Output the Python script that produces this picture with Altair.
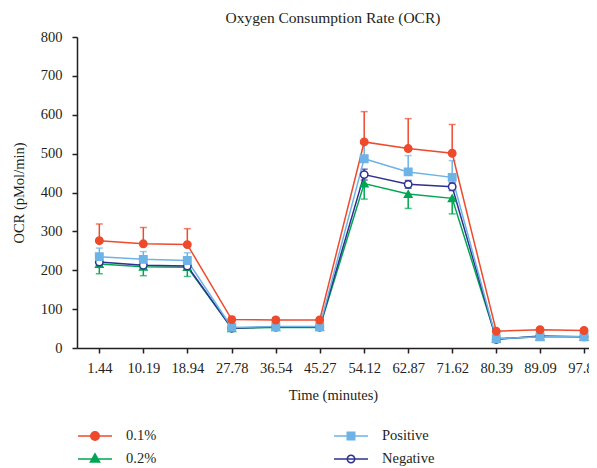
import altair as alt
import pandas as pd

times = [1.44, 10.19, 18.94, 27.78, 36.54, 45.27, 54.12, 62.87, 71.62, 80.39, 89.09, 97.84]
series_names = ["0.1%", "0.2%", "Positive", "Negative"]
stroke_colors = ["#EE4A2C", "#00A651", "#6DB3E6", "#2E3192"]
fill_colors = ["#EE4A2C", "#00A651", "#6DB3E6", "#FFFFFF"]
marker_shapes = ["circle", "triangle-up", "square", "circle"]

mean_01 = [276, 268, 266, 73, 72, 72, 530, 513, 501, 43, 47, 45]
up_01 = [43, 42, 41, 8, 6, 6, 78, 77, 74, 4, 4, 3]
down_01 = [0, 0, 0, 0, 0, 0, 0, 0, 0, 0, 0, 0]

mean_pos = [235, 228, 225, 53, 55, 55, 487, 453, 439, 24, 29, 29]
up_pos = [22, 20, 20, 4, 3, 3, 45, 42, 43, 3, 3, 3]
down_pos = [0, 0, 0, 0, 0, 0, 0, 0, 0, 0, 0, 0]

mean_02 = [216, 209, 208, 51, 53, 53, 423, 396, 385, 24, 29, 29]
up_02 = [0, 0, 0, 0, 0, 0, 0, 0, 0, 0, 0, 0]
down_02 = [25, 23, 24, 4, 3, 3, 40, 37, 40, 3, 3, 3]

mean_neg = [221, 213, 211, 51, 54, 54, 446, 421, 415, 22, 31, 29]
up_neg = [8, 7, 7, 3, 3, 3, 14, 10, 10, 3, 3, 3]
down_neg = [8, 7, 7, 3, 3, 3, 14, 10, 10, 3, 3, 3]

series_data = {
    "0.1%": (mean_01, up_01, down_01),
    "Positive": (mean_pos, up_pos, down_pos),
    "0.2%": (mean_02, up_02, down_02),
    "Negative": (mean_neg, up_neg, down_neg),
}

rows = []
caps = []
for s in ["0.2%", "Negative", "Positive", "0.1%"]:
    m, u, d = series_data[s]
    for t, mv, uv, dv in zip(times, m, u, d):
        rows.append({"series": s, "time": t, "mean": mv, "lo": mv - dv, "hi": mv + uv})
        if uv > 0:
            caps.append({"series": s, "time": t, "cap": mv + uv})
        if dv > 0:
            caps.append({"series": s, "time": t, "cap": mv - dv})
df = pd.DataFrame(rows)
caps_df = pd.DataFrame(caps)

FONT = "Liberation Serif"

# legend symbols: line segment with marker (unit coords, 1 unit = half symbol width)
leg_paths = [
    "M-1,0L1,0M0.25,0A0.25,0.25,0,1,1,-0.25,0A0.25,0.25,0,1,1,0.25,0Z",
    "M-1,0L1,0M0,-0.3L0.27,0.18L-0.27,0.18Z",
    "M-1,0L1,0M-0.22,-0.22L0.22,-0.22L0.22,0.22L-0.22,0.22Z",
    "M-1,0L1,0M0.22,0A0.22,0.22,0,1,1,-0.22,0A0.22,0.22,0,1,1,0.22,0Z",
]

x_enc = alt.X(
    "time:Q",
    scale=alt.Scale(domain=[-3.0, 98.83], nice=False, zero=False),
    axis=alt.Axis(values=times, format=".2f", title="Time (minutes)", grid=False,
                  tickSize=5, labelPadding=8, titlePadding=14, labelFlush=False),
)
y_scale = alt.Scale(domain=[0, 800], nice=False)
y_axis = alt.Axis(values=list(range(0, 801, 100)), title="OCR (pMol/min)", grid=False,
                  tickSize=5, labelPadding=10, titlePadding=14)

color_scale = alt.Scale(domain=series_names, range=stroke_colors)

err_rules = alt.Chart(df).transform_filter(alt.datum.hi > alt.datum.lo).mark_rule(strokeWidth=1.5).encode(
    x=x_enc,
    y=alt.Y("lo:Q", scale=y_scale, axis=y_axis),
    y2="hi:Q",
    color=alt.Color("series:N", scale=color_scale, legend=None),
)
err_caps = alt.Chart(caps_df).mark_tick(orient="horizontal", size=7, thickness=1.5).encode(
    x=x_enc,
    y=alt.Y("cap:Q", scale=y_scale, axis=y_axis),
    color=alt.Color("series:N", scale=color_scale, legend=None),
)
lines = alt.Chart(df).mark_line(strokeWidth=1.5).encode(
    x=x_enc,
    y=alt.Y("mean:Q", scale=y_scale, axis=y_axis),
    color=alt.Color("series:N", scale=color_scale, legend=None),
)
points = alt.Chart(df).mark_point(filled=True, size=55, strokeWidth=1.5, opacity=1).encode(
    x=x_enc,
    y=alt.Y("mean:Q", scale=y_scale, axis=y_axis),
    shape=alt.Shape("series:N", scale=alt.Scale(domain=series_names, range=marker_shapes), legend=None),
    fill=alt.Fill("series:N", scale=alt.Scale(domain=series_names, range=fill_colors), legend=None),
    stroke=alt.Stroke("series:N", scale=alt.Scale(domain=series_names, range=stroke_colors), legend=None),
)


def legend_layer(idx, legend_x):
    dom = [series_names[i] for i in idx]
    leg = alt.Legend(
        title=None, orient="none", legendX=legend_x, legendY=391,
        rowPadding=7, clipHeight=16, symbolSize=1156, symbolStrokeWidth=1.5, labelOffset=13,
        labelFont=FONT, labelFontSize=14.5, labelColor="#231F20", padding=0, symbolOpacity=1,
    )
    return alt.Chart(df).transform_filter("false").mark_point(filled=True, strokeWidth=1.5, opacity=1).encode(
        shape=alt.Shape("series:N", scale=alt.Scale(domain=dom, range=[leg_paths[i] for i in idx]), legend=leg),
        fill=alt.Fill("series:N", scale=alt.Scale(domain=dom, range=[fill_colors[i] for i in idx]), legend=leg),
        stroke=alt.Stroke("series:N", scale=alt.Scale(domain=dom, range=[stroke_colors[i] for i in idx]), legend=leg),
    )


chart = alt.layer(
    err_rules, err_caps, lines, points, legend_layer([0, 1], 0), legend_layer([2, 3], 256)
).resolve_scale(
    shape="independent", fill="independent", stroke="independent"
).properties(
    width=512, height=311,
    autosize=alt.AutoSizeParams(type="none"),
    padding={"left": 69, "top": 29, "right": 0, "bottom": 120},
    title=alt.TitleParams("Oxygen Consumption Rate (OCR)", font=FONT, fontSize=15.5,
                          fontWeight="normal", color="#231F20", offset=3, anchor="middle",
                          frame="group"),
).configure_axis(
    labelFont=FONT, labelFontSize=14.5, labelColor="#231F20",
    titleFont=FONT, titleFontSize=14.5, titleFontWeight="normal", titleColor="#231F20",
    domainColor="#231F20", domainWidth=1.5, tickColor="#231F20", tickWidth=1.5,
).configure_view(stroke=None)

chart.save("out.html", embed_options={"renderer": "svg", "actions": False})
